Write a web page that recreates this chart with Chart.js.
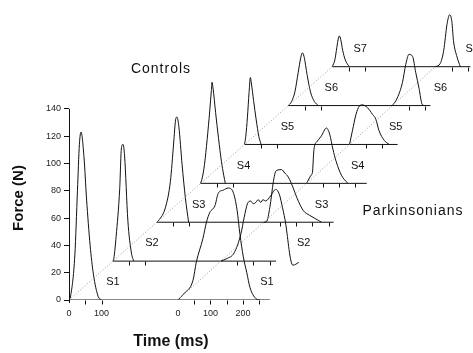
<!DOCTYPE html>
<html>
<head>
<meta charset="utf-8">
<script src="https://cdn.jsdelivr.net/npm/chart.js@4"></script>
<style>
  html, body { margin: 0; padding: 0; background: #fff; }
</style>
</head>
<body>
<canvas id="myChart" width="473" height="353"></canvas>
<script>
// sessions, one trace per group and session
const sessions = ['S1', 'S2', 'S3', 'S4', 'S5', 'S6', 'S7'];

// controls: time (ms from onset) and force (N above the trace's own baseline)
const ctlTime = [
  [0, 5, 18, 26, 32, 37, 46, 54, 65, 75, 90, 100],
  [0, 3, 10, 21, 26, 31, 36, 46, 57, 64],
  [0, 6, 27, 42, 52, 58, 62, 68, 78, 88, 98],
  [0, 5, 12, 20, 28, 33, 35, 38, 46, 55, 64, 71, 76],
  [0, 4, 9, 14, 18, 21, 28, 36, 44, 51],
  [0, 10, 20, 30, 38, 43, 48, 58, 68, 80, 92],
  [0, 8, 14, 19, 22, 26, 32, 40, 52]
];
const ctlForce = [
  [0, 3, 33, 80, 114, 123, 105, 74, 40, 19, 2.4, 0],
  [0, 2, 18, 53, 82, 85.5, 77, 30, 6, 0],
  [0, 1.4, 11, 30, 58, 75, 77, 70, 42, 18, 0],
  [0, 4, 14, 32, 53, 68, 74, 70, 52, 33, 16, 6, 0],
  [0, 6, 20, 38, 49, 45, 32, 18, 6, 0],
  [0, 3, 10, 24, 35, 38.6, 36, 22, 10, 3, 0],
  [0, 5, 14, 21, 22.5, 20, 12, 5, 0]
];

// parkinsonians
const pdTime = [
  [0, 20, 46, 57, 77, 88, 98, 114, 124, 140, 155, 170, 182, 191, 201, 212, 222, 240, 252],
  [0, 20, 41, 62, 72, 82, 92, 100, 108, 115, 123, 130, 138, 154, 169, 180, 190, 200, 205, 210, 216, 222, 240],
  [0, 9, 19, 30, 35, 40, 55, 65, 76, 91, 102, 122, 142, 168, 178],
  [0, 14, 18, 22, 25, 30, 45, 61, 71, 81, 91, 107, 127],
  [0, 9, 20, 30, 40, 55, 71, 81, 91, 107, 122],
  [0, 15, 31, 41, 51, 62, 72, 82, 92, 101],
  [0, 15, 26, 36, 44, 51, 56, 67, 77]
];
const pdForce = [
  [0, 5, 14, 28, 45, 57, 64, 69, 78, 80.5, 82, 79, 66, 48, 32, 20, 9, 1, 0],
  [0, 2, 6, 20, 32, 42, 44, 42, 43, 45, 43, 45, 44, 48, 52.5, 49, 39, 27, 18, 8.5, 0, -3, -1],
  [0, 0.5, 11, 30, 36, 38, 38.5, 36, 33, 25, 18, 8.5, 5, 1.4, 0],
  [0, 6, 8, 23, 28, 30, 34.5, 40.5, 36, 25, 16, 6, 0],
  [0, 10, 22, 28, 29, 27, 22, 18.5, 10, 3, 0],
  [0, 5.5, 17, 30, 37.5, 36, 24, 12.6, 0.7, 0],
  [0, 2.3, 12, 31, 38, 33, 19, 7, 0]
];

// tick labels
const forceTicks = [0, 20, 40, 60, 80, 100, 120, 140];
const timeTicks = [0, 100, 200];

// waterfall layout (ms / N)
const ctlStep = 135, pdStart = 335, pdStep = 132, levelStep = 28.47;
const axisEnd = [283, 170, 215, 185, 148, 117, 108];   // baseline length past PD onset
const ctlLabelDt = [135, 120, 129, 132, 132, 132, 86];
const pdLabelDt = [274, 255, 178, 157, 142, 148, 114];
const labelDf = 13;

const ctlOn = i => i * ctlStep;
const pdOn = i => pdStart + i * pdStep;
const base = i => i * levelStep;

const lineStyle = { showLine: true, pointRadius: 0, borderWidth: 1, borderColor: '#111', fill: false };
const datasets = [];

// onset diagonals (dotted)
datasets.push({ ...lineStyle, borderColor: '#9a9a9a', borderDash: [1, 2],
  data: sessions.map((s, i) => ({ x: ctlOn(i), y: base(i) })) });
datasets.push({ ...lineStyle, borderColor: '#9a9a9a', borderDash: [1, 2],
  data: sessions.map((s, i) => ({ x: pdOn(i), y: base(i) })) });

sessions.forEach((s, i) => {
  datasets.push({ ...lineStyle,
    data: [{ x: ctlOn(i), y: base(i) }, { x: pdOn(i) + axisEnd[i], y: base(i) }] });
  datasets.push({ ...lineStyle, cubicInterpolationMode: 'monotone',
    data: ctlTime[i].map((t, k) => ({ x: ctlOn(i) + t, y: base(i) + ctlForce[i][k] })) });
  datasets.push({ ...lineStyle, cubicInterpolationMode: 'monotone',
    data: pdTime[i].map((t, k) => ({ x: pdOn(i) + t, y: base(i) + pdForce[i][k] })) });
});

const FONT = '"Liberation Sans", Arial, sans-serif';

const annot = {
  id: 'annot',
  afterDatasetsDraw(chart) {
    const { ctx, scales: { x, y } } = chart;
    ctx.save();
    ctx.strokeStyle = '#111';
    ctx.lineWidth = 1;

    // y axis line, 0..140 only
    const ax = Math.round(x.getPixelForValue(0)) + 0.5;
    ctx.beginPath();
    ctx.moveTo(ax, y.getPixelForValue(0) + 3);
    ctx.lineTo(ax, y.getPixelForValue(140));
    ctx.stroke();

    // small ticks on each baseline
    sessions.forEach((s, i) => {
      const yb = Math.round(y.getPixelForValue(base(i))) + 0.5;
      const marks = [ctlOn(i) + 50, ctlOn(i) + 100];
      for (let t = 50; t <= axisEnd[i]; t += 50) marks.push(pdOn(i) + t);
      marks.forEach(v => {
        const px = Math.round(x.getPixelForValue(v)) + 0.5;
        ctx.beginPath();
        ctx.moveTo(px, yb);
        ctx.lineTo(px, yb + 4);
        ctx.stroke();
      });
    });

    // session labels
    ctx.fillStyle = '#111';
    ctx.font = '11px ' + FONT;
    ctx.textAlign = 'center';
    ctx.textBaseline = 'middle';
    sessions.forEach((s, i) => {
      ctx.fillText(s, x.getPixelForValue(ctlOn(i) + ctlLabelDt[i]), y.getPixelForValue(base(i) + labelDf));
      ctx.fillText(s, x.getPixelForValue(pdOn(i) + pdLabelDt[i]), y.getPixelForValue(base(i) + labelDf));
    });

    // group titles
    ctx.font = '14px ' + FONT;
    ctx.letterSpacing = '1px';
    ctx.fillText('Controls', 161, 69);
    ctx.fillText('Parkinsonians', 413, 211);

    // axis titles
    ctx.letterSpacing = '0px';
    ctx.font = 'bold 16px ' + FONT;
    ctx.fillText('Time (ms)', 171, 342);
    ctx.save();
    ctx.translate(19, 198);
    ctx.rotate(-Math.PI / 2);
    ctx.font = 'bold 15px ' + FONT;
    ctx.fillText('Force (N)', 0, 0);
    ctx.restore();

    ctx.restore();
  }
};

const config = {
  type: 'scatter',
  data: { datasets: datasets },
  options: {
    responsive: false,
    animation: false,
    devicePixelRatio: 1,
    layout: { padding: 0 },
    plugins: { legend: { display: false }, tooltip: { enabled: false } },
    scales: {
      x: {
        type: 'linear', min: 0, max: 1243,
        afterFit: s => { s.height = 53; },
        afterBuildTicks: s => {
          s.ticks = timeTicks.filter(v => v < 200).map(v => ({ value: v }))
            .concat(timeTicks.map(v => ({ value: pdStart + v })));
        },
        ticks: {
          font: { size: 9, family: FONT }, color: '#222', padding: 8,
          autoSkip: false, maxRotation: 0,
          callback: v => (v >= pdStart ? v - pdStart : v)
        },
        grid: { display: false, drawTicks: false },
        border: { display: false }
      },
      y: {
        type: 'linear', min: 0, max: 213.5,
        afterFit: s => { s.width = 69; },
        afterBuildTicks: s => { s.ticks = forceTicks.map(v => ({ value: v })); },
        ticks: { font: { size: 9, family: FONT }, color: '#222', padding: 3, autoSkip: false },
        grid: { drawOnChartArea: false, drawTicks: true, tickLength: 5, color: '#111' },
        border: { display: false }
      }
    }
  },
  plugins: [annot]
};

const myChart = new Chart(document.getElementById('myChart'), config);
</script>
</body>
</html>
